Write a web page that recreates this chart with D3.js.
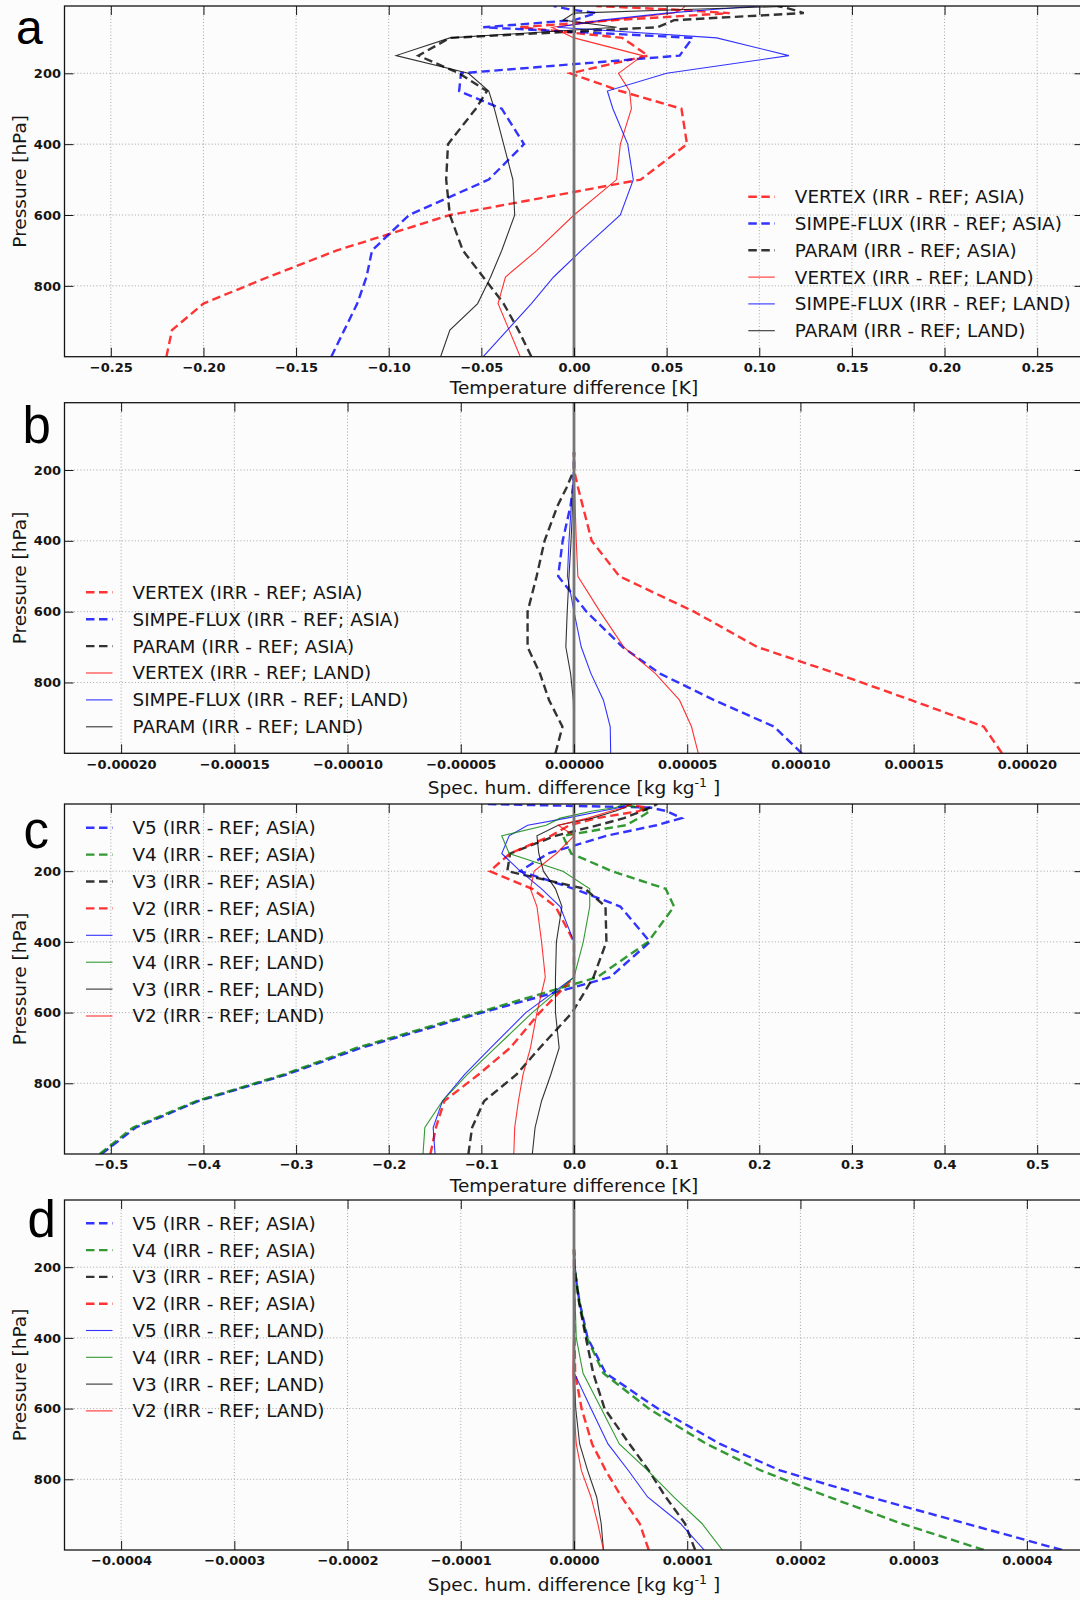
<!DOCTYPE html>
<html>
<head>
<meta charset="utf-8">
<script src="https://cdn.jsdelivr.net/npm/d3@7"></script>
<style>
  html, body { margin: 0; padding: 0; background: #fcfcfc; }
  svg { display: block; }
</style>
</head>
<body>
<svg id="fig" width="1080" height="1600"></svg>
<script>
// ---------------------------------------------------------------------------
// Vertical profiles of IRR - REF differences (pressure levels in hPa)
// ---------------------------------------------------------------------------
const levelsFull = [1000, 925, 850, 775, 700, 600, 500, 400, 300, 250, 200, 150, 100, 70, 50, 30, 20, 10];
const levelsLow  = [1000, 925, 850, 775, 700, 600, 500, 400, 300, 250, 200, 150];
const pressureTicks = [200, 400, 600, 800];

// x-axis tick values
const ticksTempA = [-0.25, -0.2, -0.15, -0.1, -0.05, 0, 0.05, 0.1, 0.15, 0.2, 0.25];
const ticksHumB  = [-0.0002, -0.00015, -0.0001, -0.00005, 0, 0.00005, 0.0001, 0.00015, 0.0002];
const ticksTempC = [-0.5, -0.4, -0.3, -0.2, -0.1, 0, 0.1, 0.2, 0.3, 0.4, 0.5];
const ticksHumD  = [-0.0004, -0.0003, -0.0002, -0.0001, 0, 0.0001, 0.0002, 0.0003, 0.0004];

// (a) temperature difference [K], schemes
const vertexAsiaT = [-0.220, -0.217, -0.200, -0.165, -0.128, -0.067, 0.036, 0.061, 0.058, 0.025, -0.002, 0.040, 0.026, -0.029, 0.022, 0.084, 0.053, 0.012];
const simpeAsiaT  = [-0.131, -0.124, -0.117, -0.112, -0.109, -0.089, -0.046, -0.027, -0.039, -0.062, -0.061, 0.057, 0.064, -0.049, 0.000, 0.012, -0.002, -0.011];
const paramAsiaT  = [-0.023, -0.030, -0.038, -0.049, -0.060, -0.067, -0.069, -0.068, -0.053, -0.047, -0.062, -0.084, -0.067, 0.045, 0.054, 0.124, 0.118, 0.110];
const vertexLandT = [-0.029, -0.035, -0.041, -0.037, -0.020, 0.000, 0.023, 0.025, 0.031, 0.030, 0.024, 0.037, 0.000, -0.012, 0.020, 0.054, 0.058, 0.060];
const simpeLandT  = [-0.049, -0.036, -0.023, -0.011, 0.004, 0.025, 0.032, 0.029, 0.021, 0.018, 0.050, 0.116, 0.077, -0.009, 0.015, 0.050, 0.075, 0.100];
const paramLandT  = [-0.072, -0.067, -0.052, -0.045, -0.039, -0.032, -0.033, -0.038, -0.043, -0.046, -0.057, -0.096, -0.067, 0.023, -0.006, 0.000, 0.060, 0.120];

// (b) specific humidity difference [kg kg-1], schemes
const vertexAsiaQ = [1.89e-4, 1.81e-4, 1.49e-4, 1.16e-4, 8.1e-5, 5.3e-5, 2.0e-5, 7.8e-6, 3.8e-6, 1.8e-6, 0, 0];
const simpeAsiaQ  = [1.006e-4, 8.84e-5, 6.2e-5, 3.8e-5, 2.15e-5, 5.5e-6, -7e-6, -5e-6, -1.5e-6, -0.5e-6, 0, 0];
const paramAsiaQ  = [-8.2e-6, -5.1e-6, -1.1e-5, -1.5e-5, -2.05e-5, -2.05e-5, -1.65e-5, -1.3e-5, -7.2e-6, -3.3e-6, 0, 0];
const vertexLandQ = [5.49e-5, 5.19e-5, 4.66e-5, 3.6e-5, 2.2e-5, 1.15e-5, 1.7e-6, 1.0e-6, 0.5e-6, 0.3e-6, 0, 0];
const simpeLandQ  = [1.62e-5, 1.6e-5, 1.3e-5, 7.5e-6, 3.2e-6, 0, -2.9e-6, -2.2e-6, -1.2e-6, -0.6e-6, 0, 0];
const paramLandQ  = [0.2e-6, 0, -0.3e-6, -1.5e-6, -3.6e-6, -3.0e-6, -2.2e-6, -1.3e-6, -0.6e-6, -0.3e-6, 0, 0];

// (c) temperature difference [K], versions
const v5AsiaT = [-0.510, -0.473, -0.405, -0.310, -0.230, -0.099, 0.039, 0.082, 0.050, 0.000, -0.058, -0.028, 0.035, 0.089, 0.116, 0.100, 0.082, -0.098];
const v4AsiaT = [-0.512, -0.476, -0.407, -0.313, -0.235, -0.104, 0.025, 0.080, 0.108, 0.099, 0.041, -0.003, -0.012, 0.056, 0.070, 0.082, 0.070, 0.050];
const v3AsiaT = [-0.114, -0.110, -0.097, -0.062, -0.037, -0.002, 0.021, 0.035, 0.034, 0.012, -0.072, -0.069, -0.020, 0.026, 0.054, 0.073, 0.082, 0.090];
const v2AsiaT = [-0.155, -0.149, -0.140, -0.103, -0.069, -0.037, 0.000, 0.000, -0.020, -0.045, -0.091, -0.069, -0.025, -0.005, 0.025, 0.070, 0.078, 0.055];
const v5LandT = [-0.150, -0.152, -0.142, -0.118, -0.090, -0.052, 0.000, 0.000, -0.015, -0.035, -0.058, -0.078, -0.070, -0.050, -0.008, 0.030, 0.050, 0.057];
const v4LandT = [-0.163, -0.161, -0.142, -0.115, -0.085, -0.045, 0.000, 0.010, 0.017, 0.017, -0.012, -0.070, -0.078, -0.030, -0.015, 0.020, 0.045, 0.055];
const v3LandT = [-0.045, -0.042, -0.035, -0.025, -0.016, -0.020, -0.020, -0.019, -0.013, -0.020, -0.033, -0.038, -0.040, -0.017, 0.020, 0.045, 0.055, 0.060];
const v2LandT = [-0.065, -0.064, -0.060, -0.055, -0.047, -0.040, -0.031, -0.035, -0.040, -0.047, -0.043, -0.019, 0.000, -0.017, 0.015, 0.040, 0.055, 0.060];

// (d) specific humidity difference [kg kg-1], versions
const v5AsiaQ = [4.31e-4, 3.46e-4, 2.61e-4, 1.82e-4, 1.29e-4, 7.4e-5, 2.8e-5, 1.2e-5, 5e-6, 2.5e-6, 0.5e-6, 0];
const v4AsiaQ = [3.62e-4, 2.89e-4, 2.25e-4, 1.65e-4, 1.17e-4, 6.6e-5, 2.6e-5, 1.15e-5, 4.8e-6, 2.5e-6, 0.5e-6, 0];
const v3AsiaQ = [1.07e-4, 9.8e-5, 8.1e-5, 6.6e-5, 4.9e-5, 2.7e-5, 1.7e-5, 1.05e-5, 4.5e-6, 2.5e-6, 0.5e-6, 0];
const v2AsiaQ = [6.6e-5, 5.8e-5, 4.2e-5, 2.8e-5, 1.6e-5, 6.7e-6, 1e-6, 0.5e-6, 0.3e-6, 0.2e-6, 0, 0];
const v5LandQ = [1.15e-4, 9.4e-5, 6.5e-5, 4.8e-5, 3.0e-5, 1.5e-5, 0.3e-6, 0, 0, 0, 0, 0];
const v4LandQ = [1.31e-4, 1.13e-4, 8.8e-5, 6.5e-5, 4.0e-5, 2.4e-5, 8e-6, 2e-6, 1e-6, 0.5e-6, 0, 0];
const v3LandQ = [2.6e-5, 2.4e-5, 2.0e-5, 1.2e-5, 5e-6, 1.5e-6, 0.3e-6, 0, 0, 0, 0, 0];
const v2LandQ = [2.6e-5, 2.1e-5, 1.5e-5, 6.5e-6, 2e-6, 0, -1e-6, -0.5e-6, 0, 0, 0, 0];

// legend labels
const schemeLabels = [
  'VERTEX (IRR - REF; ASIA)', 'SIMPE-FLUX (IRR - REF; ASIA)', 'PARAM (IRR - REF; ASIA)',
  'VERTEX (IRR - REF; LAND)', 'SIMPE-FLUX (IRR - REF; LAND)', 'PARAM (IRR - REF; LAND)'
];
const versionLabels = [
  'V5 (IRR - REF; ASIA)', 'V4 (IRR - REF; ASIA)', 'V3 (IRR - REF; ASIA)', 'V2 (IRR - REF; ASIA)',
  'V5 (IRR - REF; LAND)', 'V4 (IRR - REF; LAND)', 'V3 (IRR - REF; LAND)', 'V2 (IRR - REF; LAND)'
];

// ---------------------------------------------------------------------------
// styling
// ---------------------------------------------------------------------------
const COLOR = { red: '#ff0000', blue: '#0000ff', black: '#000000', green: '#008000' };
const schemeStyle = [
  { c: 'red', dash: true }, { c: 'blue', dash: true }, { c: 'black', dash: true },
  { c: 'red', dash: false }, { c: 'blue', dash: false }, { c: 'black', dash: false }
];
const versionStyle = [
  { c: 'blue', dash: true }, { c: 'green', dash: true }, { c: 'black', dash: true }, { c: 'red', dash: true },
  { c: 'blue', dash: false }, { c: 'green', dash: false }, { c: 'black', dash: false }, { c: 'red', dash: false }
];

const svg = d3.select('#fig');
const LEFT = 64.5, RIGHT = 1083.5;
const TEXT = '#151515';
const FONT = "'DejaVu Sans', sans-serif";

function drawPanel(cfg) {
  const g = svg.append('g');
  const x = d3.scaleLinear().domain(cfg.xDomain).range([LEFT, RIGHT]);
  const y = d3.scaleLinear().domain([10, 1000]).range([cfg.top, cfg.bottom]);

  const clipId = 'clip-' + cfg.letter;
  svg.append('clipPath').attr('id', clipId)
    .append('rect').attr('x', LEFT).attr('y', cfg.top)
    .attr('width', RIGHT - LEFT).attr('height', cfg.bottom - cfg.top);

  // dotted grid
  const grid = g.append('g').attr('stroke', '#9c9c9c').attr('stroke-width', 0.9)
    .attr('stroke-dasharray', '1,2.2');
  grid.selectAll('.gx').data(cfg.xTicks).join('line').attr('class', 'gx')
    .attr('x1', d => x(d)).attr('x2', d => x(d))
    .attr('y1', cfg.top).attr('y2', cfg.bottom);
  grid.selectAll('.gy').data(pressureTicks).join('line').attr('class', 'gy')
    .attr('x1', LEFT).attr('x2', RIGHT)
    .attr('y1', d => y(d)).attr('y2', d => y(d));

  // profiles
  const plot = g.append('g').attr('clip-path', `url(#${clipId})`);
  const line = d3.line().x(d => x(d[0])).y(d => y(d[1]));
  cfg.series.forEach((vals, i) => {
    const st = cfg.styles[i];
    const pts = vals.map((v, k) => [v, cfg.levels[k]]);
    plot.append('path')
      .attr('d', line(pts))
      .attr('fill', 'none')
      .attr('stroke', COLOR[st.c])
      .attr('stroke-opacity', 0.8)
      .attr('stroke-width', st.dash ? 2.4 : 1.1)
      .attr('stroke-dasharray', st.dash ? '8.5,4.5' : null);
  });

  // zero reference line
  plot.append('line')
    .attr('x1', x(0)).attr('x2', x(0)).attr('y1', cfg.top).attr('y2', cfg.bottom)
    .attr('stroke', '#767676').attr('stroke-width', 2.8);

  // axes (ticks point inwards on all four sides)
  const styleAxis = sel => {
    sel.select('.domain').remove();
    sel.attr('color', TEXT);
    sel.selectAll('text').attr('font-family', FONT).attr('font-size', 13)
      .attr('font-weight', 'bold').attr('fill', TEXT);
  };
  g.append('g').attr('transform', `translate(0,${cfg.bottom})`)
    .call(d3.axisBottom(x).tickValues(cfg.xTicks).tickFormat(d3.format(cfg.fmt))
      .tickSizeInner(-9).tickSizeOuter(0).tickPadding(6))
    .call(styleAxis);
  g.append('g').attr('transform', `translate(0,${cfg.top})`)
    .call(d3.axisTop(x).tickValues(cfg.xTicks).tickFormat('')
      .tickSizeInner(-9).tickSizeOuter(0))
    .call(styleAxis);
  g.append('g').attr('transform', `translate(${LEFT},0)`)
    .call(d3.axisLeft(y).tickValues(pressureTicks).tickFormat(d3.format('d'))
      .tickSizeInner(-9).tickSizeOuter(0).tickPadding(3.5))
    .call(styleAxis);
  g.append('g').attr('transform', `translate(${RIGHT},0)`)
    .call(d3.axisRight(y).tickValues(pressureTicks).tickFormat('')
      .tickSizeInner(-9).tickSizeOuter(0))
    .call(styleAxis);

  // frame
  g.append('rect').attr('x', LEFT).attr('y', cfg.top)
    .attr('width', RIGHT - LEFT).attr('height', cfg.bottom - cfg.top)
    .attr('fill', 'none').attr('stroke', TEXT).attr('stroke-width', 1.3);

  // axis titles
  const xt = g.append('text')
    .attr('x', x(0)).attr('y', cfg.bottom + cfg.xTitleOffset)
    .attr('text-anchor', 'middle').attr('font-family', FONT).attr('font-size', 18.5)
    .attr('fill', TEXT);
  if (cfg.humidity) {
    xt.append('tspan').text('Spec. hum. difference [kg kg');
    xt.append('tspan').attr('dy', -7).attr('font-size', 12.5).text('-1');
    xt.append('tspan').attr('dy', 7).text(' ]');
  } else {
    xt.text('Temperature difference [K]');
  }
  g.append('text')
    .attr('transform', `translate(26,${(cfg.top + cfg.bottom) / 2}) rotate(-90)`)
    .attr('text-anchor', 'middle').attr('font-family', FONT).attr('font-size', 18.5)
    .attr('fill', TEXT).text('Pressure [hPa]');

  // panel letter
  g.append('text').attr('x', cfg.letterX).attr('y', cfg.letterY)
    .attr('font-family', "'Liberation Sans', Arial, sans-serif").attr('font-size', cfg.letterSize)
    .attr('fill', '#000').text(cfg.letter);

  // legend (no frame)
  const lg = g.append('g');
  cfg.labels.forEach((lab, i) => {
    const st = cfg.styles[i];
    const cy = cfg.legendY + i * cfg.legendStep;
    lg.append('line')
      .attr('x1', cfg.legendX).attr('x2', cfg.legendX + 26.5)
      .attr('y1', cy).attr('y2', cy)
      .attr('stroke', COLOR[st.c]).attr('stroke-opacity', 0.8)
      .attr('stroke-width', st.dash ? 2.4 : 1.1)
      .attr('stroke-dasharray', st.dash ? '8.5,4.5' : null);
    lg.append('text')
      .attr('x', cfg.legendX + 46.5).attr('y', cy + 6.4)
      .attr('font-family', FONT).attr('font-size', 18.4).attr('fill', TEXT)
      .text(lab);
  });
}

drawPanel({
  letter: 'a', letterX: 16, letterY: 43.5, letterSize: 48,
  top: 6, bottom: 356.7, xDomain: [-0.275, 0.275], xTicks: ticksTempA, fmt: '.2f',
  xTitleOffset: 37, humidity: false,
  levels: levelsFull,
  series: [vertexAsiaT, simpeAsiaT, paramAsiaT, vertexLandT, simpeLandT, paramLandT],
  styles: schemeStyle, labels: schemeLabels,
  legendX: 748.3, legendY: 196.7, legendStep: 26.8
});

drawPanel({
  letter: 'b', letterX: 22.5, letterY: 443.3, letterSize: 51,
  top: 402.7, bottom: 753.3, xDomain: [-0.000225, 0.000225], xTicks: ticksHumB, fmt: '.5f',
  xTitleOffset: 40.5, humidity: true,
  levels: levelsLow,
  series: [vertexAsiaQ, simpeAsiaQ, paramAsiaQ, vertexLandQ, simpeLandQ, paramLandQ],
  styles: schemeStyle, labels: schemeLabels,
  legendX: 86, legendY: 592.3, legendStep: 26.9
});

drawPanel({
  letter: 'c', letterX: 23.5, letterY: 848.3, letterSize: 51,
  top: 804, bottom: 1154, xDomain: [-0.55, 0.55], xTicks: ticksTempC, fmt: '.1f',
  xTitleOffset: 37.5, humidity: false,
  levels: levelsFull,
  series: [v5AsiaT, v4AsiaT, v3AsiaT, v2AsiaT, v5LandT, v4LandT, v3LandT, v2LandT],
  styles: versionStyle, labels: versionLabels,
  legendX: 86, legendY: 827.7, legendStep: 26.9
});

drawPanel({
  letter: 'd', letterX: 27.5, letterY: 1236.7, letterSize: 51,
  top: 1200, bottom: 1550, xDomain: [-0.00045, 0.00045], xTicks: ticksHumD, fmt: '.4f',
  xTitleOffset: 41, humidity: true,
  levels: levelsLow,
  series: [v5AsiaQ, v4AsiaQ, v3AsiaQ, v2AsiaQ, v5LandQ, v4LandQ, v3LandQ, v2LandQ],
  styles: versionStyle, labels: versionLabels,
  legendX: 86, legendY: 1223.3, legendStep: 26.8
});
</script>
</body>
</html>
